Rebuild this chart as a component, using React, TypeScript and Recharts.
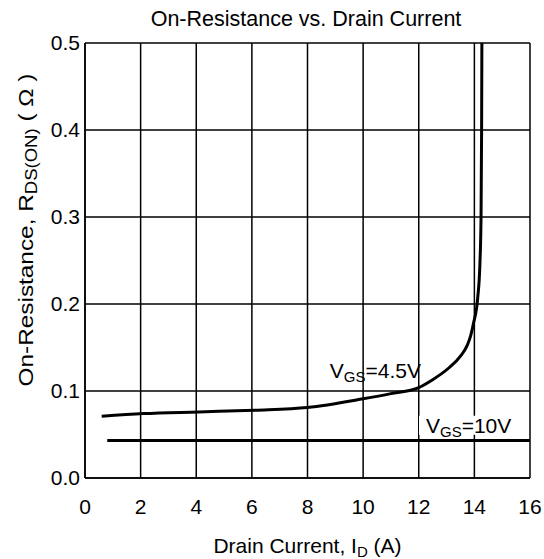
import { CartesianGrid, Line, LineChart, ReferenceDot, XAxis, YAxis } from "recharts";

// drain current (A) and on-resistance (ohm)
const currentVgs45 = [0.6, 2.1, 4.1, 6.1, 8.0, 10.0, 11.0, 12.0, 12.5, 13.1, 13.5, 13.75, 13.87, 13.97, 14.12, 14.2, 14.24, 14.26, 14.27];
const rdsVgs45 = [0.071, 0.074, 0.076, 0.078, 0.081, 0.091, 0.097, 0.104, 0.113, 0.127, 0.14, 0.153, 0.164, 0.178, 0.207, 0.247, 0.3, 0.4, 0.5];
const currentVgs10 = [0.8, 16];
const rdsVgs10 = [0.043, 0.043];

const xTicks = [0, 2, 4, 6, 8, 10, 12, 14, 16];
const yTicks = [0, 0.1, 0.2, 0.3, 0.4, 0.5];

const FONT = '"Liberation Sans", Arial, Helvetica, sans-serif';

const vgs45 = currentVgs45.map((id, i) => ({ id, rds: rdsVgs45[i] }));
const vgs10 = currentVgs10.map((id, i) => ({ id, rds: rdsVgs10[i] }));

function VgsLabel({ viewBox, text, erase }: any) {
  const { x, y } = viewBox;
  return (
    <g>
      {erase && <rect x={x - 7} y={y - 17} width={96} height={19} fill="#fff" />}
      <text x={x} y={y} fontSize={21} fontFamily={FONT} fill="#000">
        V
        <tspan fontSize={15} dy={4}>GS</tspan>
        <tspan dy={-4}>={text}</tspan>
      </text>
    </g>
  );
}

function XTitle({ viewBox }: any) {
  return (
    <text x={viewBox.x + viewBox.width / 2} y={viewBox.y + 75} textAnchor="middle" fontSize={21} fontFamily={FONT} fill="#000">
      Drain Current, I
      <tspan fontSize={15} dy={4}>D</tspan>
      <tspan dy={-4}>{" (A)"}</tspan>
    </text>
  );
}

function YTitle({ viewBox }: any) {
  const cx = viewBox.x + 33;
  const cy = viewBox.y + 187;
  // the scan stretches this title along its length
  return (
    <text
      x={0}
      y={0}
      transform={`translate(${cx}, ${cy}) rotate(-90) scale(1.16, 1)`}
      textAnchor="middle"
      fontSize={21}
      fontFamily={FONT}
      fill="#000"
    >
      On-Resistance, R
      <tspan fontSize={16} dy={4}>DS(ON)</tspan>
      <tspan dy={-4}>{" ( \u03A9 )"}</tspan>
    </text>
  );
}

export default function App() {
  return (
    <div style={{ position: "relative", width: 544, height: 559 }}>
      <style>{"body{margin:0}"}</style>
      <svg width={544} height={40} style={{ position: "absolute", left: 0, top: 0 }}>
        <text x={306} y={26} textAnchor="middle" fontSize={21.5} fontFamily={FONT} fill="#000">
          On-Resistance vs. Drain Current
        </text>
      </svg>
      <LineChart width={544} height={559} margin={{ top: 43, right: 14, bottom: 0, left: 0 }}>
        <CartesianGrid stroke="#000" strokeWidth={1.5} horizontalValues={yTicks} verticalValues={xTicks} />
        <XAxis
          type="number"
          dataKey="id"
          domain={[0, 16]}
          ticks={xTicks}
          height={81}
          tickLine={false}
          tickSize={0}
          tickMargin={21}
          axisLine={{ stroke: "#000", strokeWidth: 1.5 }}
          tick={{ fill: "#000", fontSize: 21, fontFamily: FONT }}
          allowDataOverflow
          label={<XTitle />}
        />
        <YAxis
          type="number"
          dataKey="rds"
          domain={[0, 0.5]}
          ticks={yTicks}
          width={85}
          tickLine={false}
          tickSize={0}
          tickMargin={5}
          axisLine={{ stroke: "#000", strokeWidth: 1.5 }}
          tick={{ fill: "#000", fontSize: 21, fontFamily: FONT }}
          tickFormatter={(v: number) => v.toFixed(1)}
          allowDataOverflow
          label={<YTitle />}
        />
        <Line data={vgs10} dataKey="rds" type="linear" stroke="#000" strokeWidth={3} dot={false} isAnimationActive={false} />
        <Line data={vgs45} dataKey="rds" type="monotone" stroke="#000" strokeWidth={3} dot={false} isAnimationActive={false} />
        <ReferenceDot x={8.8} y={0.1153} r={0} fill="none" stroke="none" label={<VgsLabel text="4.5V" />} />
        <ReferenceDot x={12.26} y={0.052} r={0} fill="none" stroke="none" label={<VgsLabel text="10V" erase />} />
      </LineChart>
    </div>
  );
}
